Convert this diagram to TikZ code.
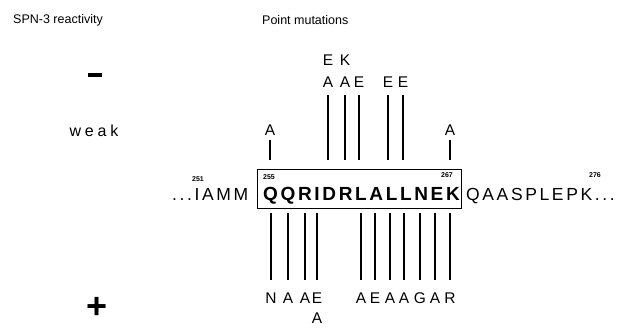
\documentclass[tikz,border=0pt]{standalone}
\usepackage{fontspec}
\setmainfont{Liberation Sans}
\newfontfamily\seqfont[LetterSpace=15]{Liberation Sans}
\newfontfamily\coref[LetterSpace=14]{Liberation Sans}
\newfontfamily\wideword[LetterSpace=24]{Liberation Sans}
\begin{document}
\begin{tikzpicture}[x=1pt,y=-1pt,
  heading/.style={font=\fontsize{12.5}{14}\selectfont, anchor=west, inner sep=0pt},
  mutlabel/.style={font=\fontsize{15.5}{17}\selectfont, inner sep=0pt},
  seqtext/.style={font=\seqfont\fontsize{17.5}{20}\selectfont, anchor=base west, inner sep=0pt},
  resnum/.style={font=\bfseries\fontsize{7}{8}\selectfont, inner sep=0pt},
  mline/.style={line width=1.6pt},
  sign/.style={inner sep=0pt}
]
\useasboundingbox (0,0) rectangle (624,327);

% column headings
\node[heading] (hreact) at (13,20) {SPN-3 reactivity};
\node[heading] (hmut) at (262,20) {Point mutations};

% reactivity classes
\fill (88,72.5) rectangle (102,77) coordinate (minus);
\node[font=\wideword\fontsize{16}{18}\selectfont, inner sep=0pt] (weak) at (94,131) {weak};
\node[sign, font=\bfseries\fontsize{36}{36}\selectfont] (plus) at (97,308) {+};

% sequence: flanking residues and boxed core 255-267
\node[seqtext] (pre) at (172,200) {...IAMM};
\node[draw, line width=1.2pt, minimum width=204pt, minimum height=39pt,
      inner sep=0pt, anchor=north west] (box) at (257,169) {};
\node[font=\coref\bfseries\fontsize{19}{22}\selectfont, anchor=base west, inner sep=0pt]
      (core) at (263,200) {QQRIDRLALLNEK};
\node[seqtext] (post) at (466,200) {QAASPLEPK...};

% residue numbers
\node[resnum] (n251) at (198,179) {251};
\node[resnum] (n255) at (269,177) {255};
\node[resnum] (n267) at (447,175) {267};
\node[resnum] (n276) at (595,175) {276};

% line extents above and below the sequence
\coordinate (tallstart) at (0,95);
\coordinate (shortstart) at (0,140);
\coordinate (topend) at (0,160);
\coordinate (botstart) at (0,213);
\coordinate (botend) at (0,280);

% substitutions abolishing reactivity (top)
\node[mutlabel] (e1) at (328,60) {E};
\node[mutlabel] (k1) at (345,60) {K};
\node[mutlabel] (t1) at (328,82) {A};
\node[mutlabel] (t2) at (345,82) {A};
\node[mutlabel] (t3) at (359,82) {E};
\node[mutlabel] (t4) at (388,82) {E};
\node[mutlabel] (t5) at (403,82) {E};
\foreach \n in {t1,t2,t3,t4,t5}
  \draw[mline] (\n.south |- tallstart) -- (\n.south |- topend);

% substitutions giving weak reactivity
\node[mutlabel] (w1) at (270,130) {A};
\node[mutlabel] (w2) at (450,130) {A};
\foreach \n in {w1,w2}
  \draw[mline] (\n.south |- shortstart) -- (\n.south |- topend);

% substitutions retaining reactivity (bottom)
\node[mutlabel] (b1) at (271,298) {N};
\node[mutlabel] (b2) at (288,298) {A};
\node[mutlabel] (b3) at (305,298) {A};
\node[mutlabel] (b4) at (317,298) {E};
\node[mutlabel] (b4x) at (317,318.5) {A};
\node[mutlabel] (b5) at (361,298) {A};
\node[mutlabel] (b6) at (375,298) {E};
\node[mutlabel] (b7) at (390,298) {A};
\node[mutlabel] (b8) at (404,298) {A};
\node[mutlabel] (b9) at (420,298) {G};
\node[mutlabel] (b10) at (435,298) {A};
\node[mutlabel] (b11) at (450,298) {R};
\foreach \n in {b1,b2,b3,b4,b5,b6,b7,b8,b9,b10,b11}
  \draw[mline] (\n.north |- botstart) -- (\n.north |- botend);
\end{tikzpicture}
\end{document}
